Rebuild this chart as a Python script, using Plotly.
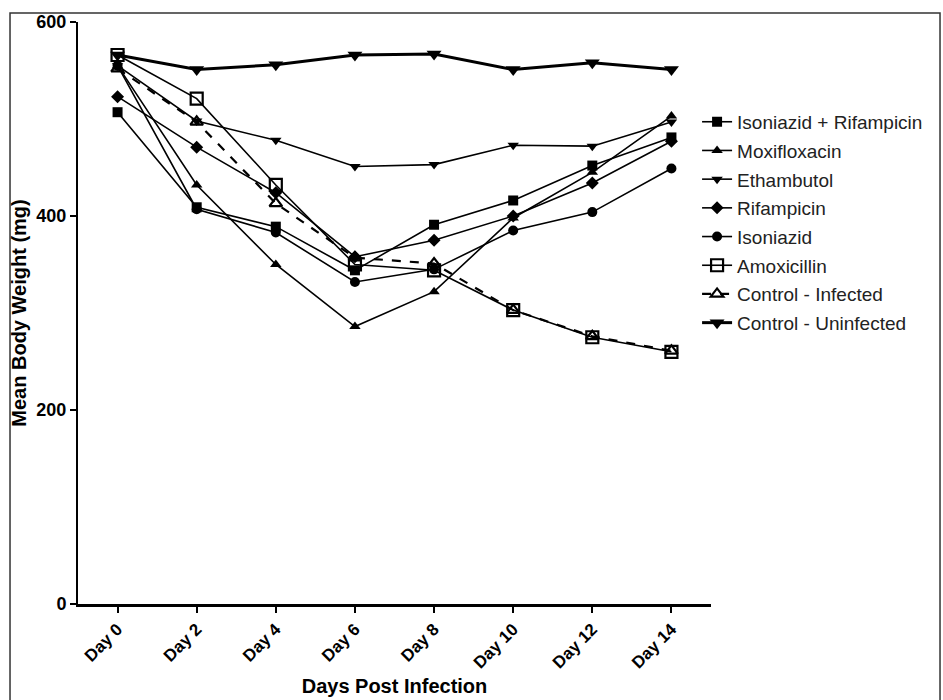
import plotly.graph_objects as go

days = ["Day 0", "Day 2", "Day 4", "Day 6", "Day 8", "Day 10", "Day 12", "Day 14"]

isoniazid_rifampicin = [507, 409, 389, 344, 391, 416, 452, 481]
moxifloxacin = [555, 432, 350, 286, 322, 398, 445, 503]
ethambutol = [555, 498, 478, 451, 453, 473, 472, 497]
rifampicin = [523, 471, 424, 358, 375, 400, 434, 477]
isoniazid = [555, 407, 383, 332, 345, 385, 404, 449]
amoxicillin = [566, 521, 432, 350, 344, 303, 275, 260]
control_infected = [552, 497, 413, 357, 351, 303, 276, 261]
control_uninfected = [566, 551, 556, 566, 567, 551, 558, 551]

series = [
    ("Isoniazid + Rifampicin", isoniazid_rifampicin, "square", 10, 1.6, "solid"),
    ("Moxifloxacin", moxifloxacin, "triangle-up", 10, 1.6, "solid"),
    ("Ethambutol", ethambutol, "triangle-down", 10, 1.6, "solid"),
    ("Rifampicin", rifampicin, "diamond", 10, 1.6, "solid"),
    ("Isoniazid", isoniazid, "circle", 10, 1.6, "solid"),
    ("Amoxicillin", amoxicillin, "square-open", 12, 1.6, "solid"),
    ("Control - Infected", control_infected, "triangle-up-open", 11, 2.2, "dash"),
    ("Control - Uninfected", control_uninfected, "triangle-down", 13, 3, "solid"),
]

fig = go.Figure()
for i, (name, vals, sym, size, lw, dash) in enumerate(series):
    fig.add_trace(go.Scatter(
        x=days, y=vals, name=name, mode="lines+markers",
        line=dict(color="black", width=lw, dash=dash),
        marker=dict(symbol=sym, size=size, color="black",
                    line=dict(color="black", width=2.2 if "open" in sym else 0)),
        legendgroup=f"g{i}",
    ))

font = "Arial, Liberation Sans, sans-serif"
fig.update_layout(
    width=943, height=700,
    margin=dict(l=78, r=232, t=22, b=96, autoexpand=False),
    paper_bgcolor="white", plot_bgcolor="white",
    font=dict(family=font, color="black"),
    showlegend=True,
    legend=dict(x=0.978, y=0.861, xanchor="left", yanchor="top",
                font=dict(size=19, family=font, color="#222"),
                tracegroupgap=1, bgcolor="rgba(0,0,0,0)", itemwidth=30),
    xaxis=dict(
        range=[-0.5, 7.5], showline=True, linecolor="black", linewidth=2.5,
        ticks="outside", ticklen=6, tickwidth=1.5, tickcolor="black",
        tickangle=-45, showgrid=False, zeroline=False,
        tickfont=dict(size=17, family=font, weight="bold"),
        title=dict(text="<b>Days Post Infection</b>", font=dict(size=20), standoff=8),
    ),
    yaxis=dict(
        range=[0, 600], tickvals=[0, 200, 400, 600], showline=True,
        linecolor="black", linewidth=2, ticks="outside", ticklen=6,
        tickwidth=1.5, tickcolor="black", showgrid=False, zeroline=False,
        tickfont=dict(size=18, family=font, weight="bold"),
        title=dict(text="<b>Mean Body Weight (mg)</b>", font=dict(size=20), standoff=4),
    ),
    shapes=[dict(type="rect", xref="paper", yref="paper",
                 x0=-0.1074, x1=1.3618, y0=-0.2, y1=1.0155,
                 line=dict(color="#333", width=1.5))],
)

fig.write_html("out.html")
